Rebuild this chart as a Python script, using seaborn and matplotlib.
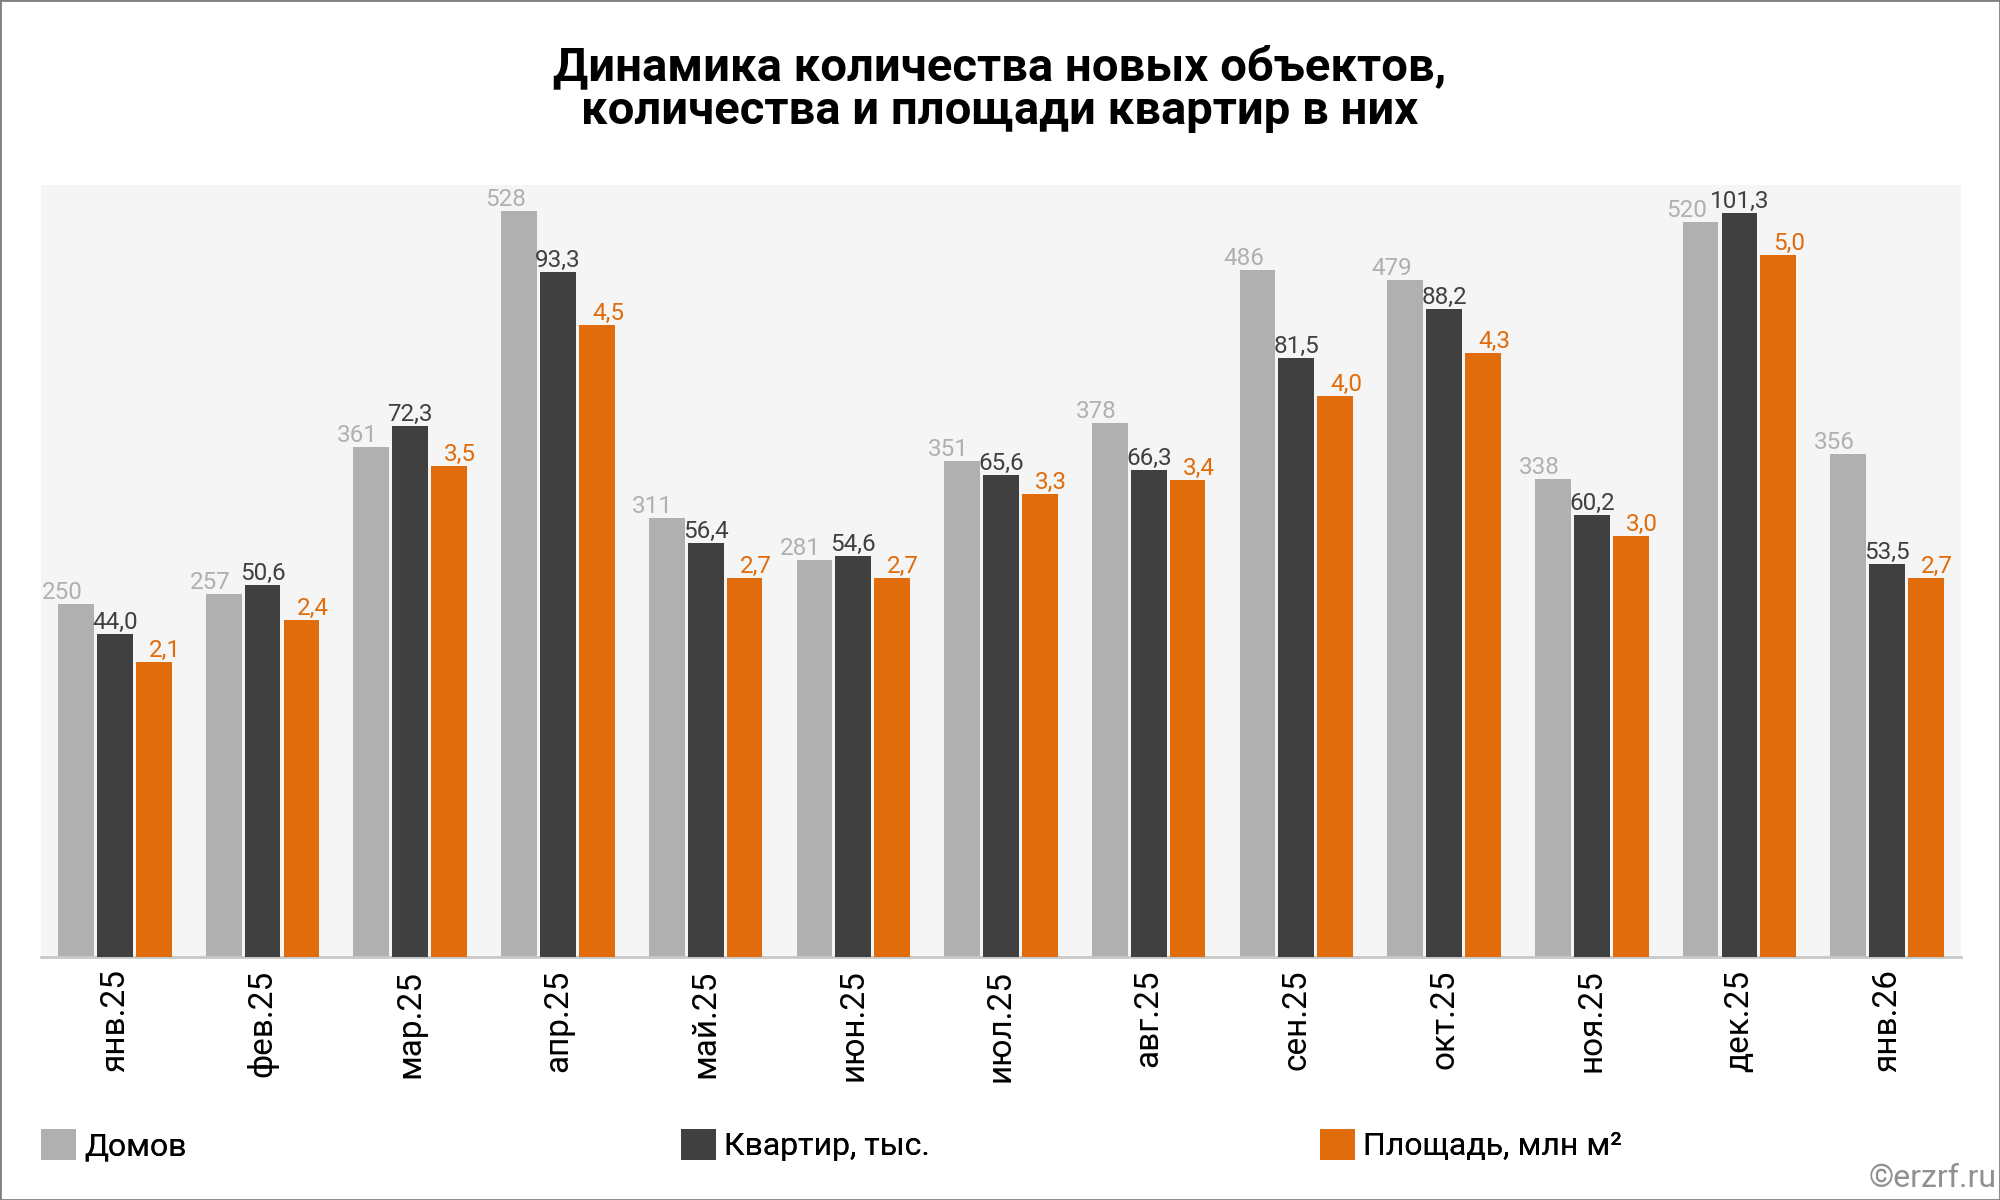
import matplotlib
matplotlib.use("Agg")
import matplotlib.pyplot as plt
import seaborn as sns
import pandas as pd
from matplotlib.patches import Patch, Rectangle

months = ["янв.25", "фев.25", "мар.25", "апр.25", "май.25", "июн.25", "июл.25",
          "авг.25", "сен.25", "окт.25", "ноя.25", "дек.25", "янв.26"]
houses = [250, 257, 361, 528, 311, 281, 351, 378, 486, 479, 338, 520, 356]
flats = [44.0, 50.6, 72.3, 93.3, 56.4, 54.6, 65.6, 66.3, 81.5, 88.2, 60.2, 101.3, 53.5]
area = [2.1, 2.4, 3.5, 4.5, 2.7, 2.7, 3.3, 3.4, 4.0, 4.3, 3.0, 5.0, 2.7]
series_names = ["Домов", "Квартир, тыс.", "Площадь, млн м²"]
colors = ["#b0b0b0", "#404040", "#e06c0c"]

sns.set_style("white")
plt.rcParams["font.family"] = ["Roboto", "DejaVu Sans"]
plt.rcParams["text.color"] = "black"

fig = plt.figure(figsize=(20, 12), dpi=100)
ax1 = fig.add_axes([0.0205, 0.2025, 0.96, 0.6433])
ax1.set_facecolor("#f5f5f5")
ax2 = ax1.twinx()
ax3 = ax1.twinx()
axes = [ax1, ax2, ax3]
values = [houses, flats, area]
ylims = [546.4, 105.1, 5.50]
fmts = [lambda v: f"{v:.0f}", lambda v: f"{v:.1f}".replace(".", ","),
        lambda v: f"{v:.1f}".replace(".", ",")]
dxs = [-10, 0, 8]

for ax, name, vals, col, ylim, fmt, dx in zip(axes, series_names, values, colors, ylims, fmts, dxs):
    df = pd.DataFrame({"month": months, "value": vals, "series": name})
    sns.barplot(data=df, x="month", y="value", hue="series", hue_order=series_names,
                palette=dict(zip(series_names, colors)), order=months,
                width=0.79, gap=0.08, dodge=True, legend=False, ax=ax,
                saturation=1, edgecolor="none", linewidth=0)
    ax.set_ylim(0, ylim)
    ax.set_xlim(-0.5, len(months) - 0.5)
    for cont in ax.containers:
        for p, v in zip(cont.patches, vals):
            ax.annotate(fmt(v), (p.get_x() + p.get_width() / 2, p.get_height()),
                        xytext=(dx, 0), textcoords="offset points",
                        ha="center", va="bottom", fontsize=17.5, color=col)
    ax.set_yticks([])
    ax.set_ylabel("")
    ax.set_xlabel("")
    for s in ["top", "right", "left", "bottom"]:
        ax.spines[s].set_visible(False)

ax1.spines["bottom"].set_visible(True)
ax1.spines["bottom"].set_color("#c8c8c8")
ax1.spines["bottom"].set_linewidth(2)
ax1.tick_params(axis="x", length=0, pad=9, labelsize=24, labelcolor="black", labelrotation=90)
ax2.tick_params(axis="x", length=0, labelbottom=False)
ax3.tick_params(axis="x", length=0, labelbottom=False)

fig.text(0.5, 0.926, "Динамика количества новых объектов,\nколичества и площади квартир в них",
         ha="center", va="center", fontsize=34, fontweight="bold", linespacing=1.0,
         color="black")

leg_x = [0.0205, 0.3405, 0.66]
for name, col, x in zip(series_names, colors, leg_x):
    leg = fig.legend(handles=[Patch(facecolor=col, edgecolor="none")], labels=[name],
                     loc="center left", bbox_to_anchor=(x, 0.0458), frameon=False,
                     fontsize=23, handlelength=1.1, handleheight=1.15, handletextpad=0.25,
                     borderpad=0, borderaxespad=0, labelcolor="black")
    fig.add_artist(leg)

fig.text(0.9985, 0.006, "©erzrf.ru", ha="right", va="bottom", fontsize=23, color="#909090")
fig.add_artist(Rectangle((0, 0), 1, 1, transform=fig.transFigure, fill=False,
                         edgecolor="#808080", linewidth=2))

fig.savefig("out.png", dpi=100)
